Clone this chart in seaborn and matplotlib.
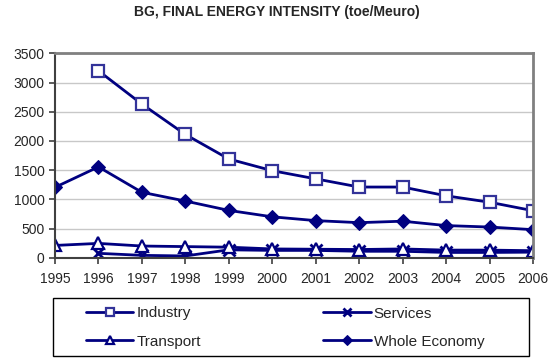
import numpy as np
import pandas as pd
import matplotlib
matplotlib.use("Agg")
import matplotlib.pyplot as plt
from matplotlib.patches import Rectangle
import seaborn as sns

sns.set_style("white")
plt.rcParams["font.family"] = ["Liberation Sans", "DejaVu Sans"]

years = [1995, 1996, 1997, 1998, 1999, 2000, 2001, 2002, 2003, 2004, 2005, 2006]
industry = [np.nan, 3200, 2630, 2110, 1690, 1490, 1350, 1210, 1210, 1060, 950, 805]
services = [np.nan, 75, 40, 30, 135, 125, 125, 110, 110, 90, 90, 95]
transport = [210, 245, 200, 190, 180, 150, 145, 140, 150, 130, 130, 120]
whole_economy = [1205, 1555, 1120, 970, 810, 700, 635, 600, 625, 550, 525, 480]
y_ticks = [0, 500, 1000, 1500, 2000, 2500, 3000, 3500]

df = pd.DataFrame({
    "year": years,
    "Industry": industry,
    "Services": services,
    "Transport": transport,
    "Whole Economy": whole_economy,
})

navy = "#000080"
styles = {
    "Industry": dict(marker="s", markersize=8, markerfacecolor="white",
                     markeredgecolor="#333399", markeredgewidth=1.6),
    "Services": dict(marker="x", markersize=8, markeredgecolor=navy,
                     markeredgewidth=2),
    "Transport": dict(marker="^", markersize=8, markerfacecolor="white",
                      markeredgecolor=navy, markeredgewidth=1.6),
    "Whole Economy": dict(marker="D", markersize=7, markerfacecolor=navy,
                          markeredgecolor=navy),
}

W, H = 553, 360
fig = plt.figure(figsize=(W / 100, H / 100), dpi=100)
ax = fig.add_axes([55 / W, 1 - 257.7 / H, (533 - 55) / W, (257.7 - 53.3) / H])

for name in ["Industry", "Services", "Transport", "Whole Economy"]:
    sns.lineplot(data=df, x="year", y=name, ax=ax, color=navy, linewidth=2,
                 label=name, legend=False, **styles[name])

ax.set_xlim(years[0], years[-1])
ax.set_ylim(0, 3500)
ax.set_xticks(years)
ax.set_xticklabels([str(y) for y in years])
ax.set_yticks(y_ticks)
ax.set_xlabel("")
ax.set_ylabel("")
ax.yaxis.grid(True, color="#c8c8c8", linewidth=1)
ax.set_axisbelow(True)

for side in ["top", "right"]:
    ax.spines[side].set_color("#808080")
    ax.spines[side].set_linewidth(2)
for side in ["left", "bottom"]:
    ax.spines[side].set_color("#404040")
    ax.spines[side].set_linewidth(1.5)

ax.tick_params(axis="both", direction="out", length=4, width=1.2,
               color="#404040", labelsize=10, bottom=True, left=True)
ax.tick_params(axis="x", pad=6)

fig.suptitle("BG, FINAL ENERGY INTENSITY (toe/Meuro)", x=0.5, y=0.985,
             fontsize=10, fontweight="bold")

# legend frame drawn as its own box below the plot
fig.add_artist(Rectangle((53 / W, 1 - 356 / H), (529 - 53) / W, (356 - 298) / H,
                         transform=fig.transFigure, facecolor="white",
                         edgecolor="black", linewidth=1))

# two columns, filled column-wise: Industry/Transport left, Services/Whole Economy right
handles, labels = ax.get_legend_handles_labels()
order = [0, 2, 1, 3]
leg = fig.legend([handles[i] for i in order], [labels[i] for i in order],
                 ncol=2, loc="upper left",
                 bbox_to_anchor=(86 / W, 1 - 306.5 / H),
                 bbox_transform=fig.transFigure,
                 fontsize=11, frameon=False,
                 handlelength=3.1, handletextpad=0.2,
                 borderaxespad=0, borderpad=0, labelspacing=0.92,
                 columnspacing=8.0, markerscale=0.72)

fig.savefig("out.png", dpi=100)
